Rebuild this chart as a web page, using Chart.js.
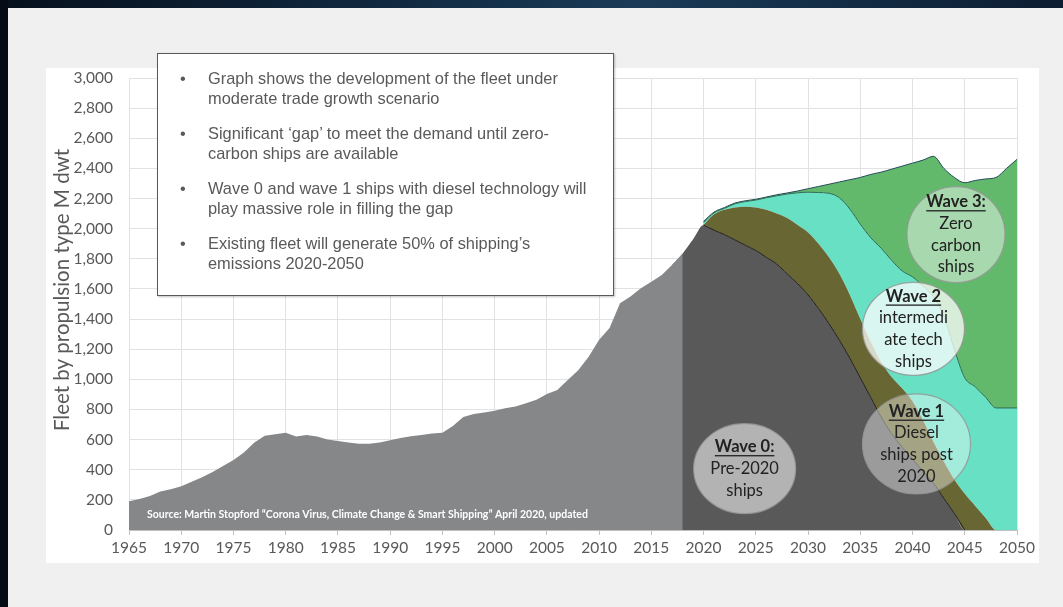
<!DOCTYPE html>
<html>
<head>
<meta charset="utf-8">
<script src="https://cdn.jsdelivr.net/npm/chart.js@4.4.1/dist/chart.umd.min.js"></script>
<style>
  html, body { margin:0; padding:0; }
  body { width:1063px; height:607px; background:#f0f0f0; position:relative; overflow:hidden; }
  #topStrip { position:absolute; left:0; top:0; width:1063px; height:8px;
    background:linear-gradient(90deg,#06101c 0%,#10283f 35%,#1a3b57 60%,#0c1d31 100%); }
  #leftStrip { position:absolute; left:0; top:0; width:8px; height:607px; background:#050c16; }
  #panel { position:absolute; left:46px; top:68px; width:993px; height:495px; background:#fff; }
  #fleetChart { position:absolute; left:0; top:0; }
  #note { position:absolute; left:157px; top:53px; width:457px; height:243px; box-sizing:border-box;
    background:#fff; border:1.5px solid #595959; box-shadow:1px 1px 2px rgba(0,0,0,.25);
    font:16.4px "Liberation Sans", Arial, sans-serif; color:#595959; }
  #note ul { list-style:none; margin:0; padding:15px 0 0 0; }
  #note li { position:relative; padding-left:50px; line-height:19.5px; margin-bottom:16px; white-space:nowrap; }
  #note li::before { content:"\2022"; position:absolute; left:22px; }
</style>
</head>
<body>
<div id="topStrip"></div>
<div id="leftStrip"></div>
<div id="panel"></div>
<canvas id="fleetChart" width="1063" height="607"></canvas>
<div id="note">
  <ul>
    <li>Graph shows the development of the fleet under<br>moderate trade growth scenario</li>
    <li>Significant ‘gap’ to meet the demand until zero-<br>carbon ships are available</li>
    <li>Wave 0 and wave 1 ships with diesel technology will<br>play massive role in filling the gap</li>
    <li>Existing fleet will generate 50% of shipping’s<br>emissions 2020-2050</li>
  </ul>
</div>
<script>
/* ---------- data (M dwt) ---------- */

// fleet history 1965-2018
const pastFleet = [
  190, 205, 225, 255, 270, 290, 320, 350, 385, 425,
  465, 515, 580, 625, 635, 645, 620, 630, 620, 600,
  590, 580, 572, 572, 580, 595, 610, 622, 630, 640,
  645, 690, 750, 770, 780, 792, 808, 820, 842, 865,
  903, 930, 995, 1060, 1150, 1262, 1340, 1505, 1550, 1605,
  1648, 1692, 1760, 1836
];

// projection years 2017-2050 (2017 sits under the history area)
const futureYears = [
  2017, 2018, 2019, 2020, 2021, 2022, 2023, 2024, 2025, 2026,
  2027, 2028, 2029, 2030, 2031, 2032, 2033, 2034, 2035, 2036,
  2037, 2038, 2039, 2040, 2041, 2042, 2043, 2044, 2045, 2046,
  2047, 2048, 2049, 2050
];

// wave 0: pre-2020 ships
const wave0 = [
  1760, 1836, 1930, 2025, 1990, 1960, 1925, 1890, 1855, 1810,
  1765, 1700, 1635, 1560, 1470, 1370, 1260, 1140, 1010, 880,
  750, 640, 550, 470, 390, 310, 210, 110, 0, 0,
  0, 0, 0, 0
];

// wave 1: diesel ships post 2020
const wave1 = [
  null, null, null, 0, 105, 165, 215, 255, 285, 315,
  335, 370, 390, 415, 430, 440, 440, 420, 390, 370,
  365, 375, 390, 385, 340, 275, 245, 225, 240, 160,
  80, 0, 0, 0
];

// wave 2: intermediate tech ships
const wave2 = [
  null, null, null, 15, 10, 10, 25, 35, 50, 80,
  118, 160, 213, 267, 340, 425, 505, 570, 630, 690,
  755, 775, 780, 825, 890, 963, 965, 865, 770, 790,
  800, 810, 810, 810
];

// wave 3: zero carbon ships
const wave3 = [
  null, null, null, 8, 5, 5, 5, 5, 5, 5,
  7, 7, 12, 23, 40, 60, 105, 195, 310, 420,
  505, 605, 695, 755, 835, 932, 980, 1140, 1295, 1370,
  1450, 1530, 1590, 1650
];

const yearTicks = { min: 1965, max: 2050, step: 5 };
const valueTicks = { min: 0, max: 3000, step: 200 };

const bubbles = [
  { year: 2023.93, value: 407,  rx: 51, ry: 45,   alpha: .54, lines: ["Wave 0:", "Pre-2020", "ships"] },
  { year: 2040.38, value: 571,  rx: 54, ry: 50,   alpha: .40, lines: ["Wave 1", "Diesel", "ships post", "2020"] },
  { year: 2040.09, value: 1335, rx: 51, ry: 46.5, alpha: .75, lines: ["Wave 2", "intermedi", "ate tech", "ships"] },
  { year: 2044.16, value: 1961, rx: 49, ry: 48,   alpha: .45, lines: ["Wave 3:", "Zero", "carbon", "ships"] }
];

const sourceNote = "Source: Martin Stopford \u201cCorona Virus, Climate Change & Smart Shipping\u201d April 2020, updated";
const yTitle = "Fleet by propulsion type M dwt";

/* ---------- helpers ---------- */

const pastPoints = pastFleet.map((v, i) => ({ x: 1965 + i, y: v }));
const toPoints = arr => futureYears.map((yr, i) => ({ x: yr, y: arr[i] }));

// outline of wave 0 from the 2020 peak until it runs out
const wave0Edge = toPoints(wave0).filter(p => p.x >= 2020 && p.x <= 2045);

const GRID = "#e2e2e2";
const AXIS = "#bfbfbf";
const TEXT = "#595959";

/* ---------- overlays: bubbles, source, axis title ---------- */

const overlayPlugin = {
  id: "overlay",
  afterDatasetsDraw(chart) {
    const { ctx, chartArea, scales: { x, y } } = chart;
    const lineH = 21.6;

    ctx.save();
    bubbles.forEach(b => {
      const cx = x.getPixelForValue(b.year);
      const cy = y.getPixelForValue(b.value);

      ctx.beginPath();
      ctx.ellipse(cx, cy, b.rx, b.ry, 0, 0, Math.PI * 2);
      ctx.fillStyle = "rgba(255,255,255," + b.alpha + ")";
      ctx.fill();
      ctx.strokeStyle = "rgba(150,150,150,0.85)";
      ctx.lineWidth = 1.2;
      ctx.stroke();

      ctx.textAlign = "center";
      ctx.textBaseline = "middle";
      ctx.fillStyle = "#222";
      const top = cy - (b.lines.length - 1) * lineH / 2;
      b.lines.forEach((t, i) => {
        ctx.font = (i === 0 ? "bold " : "") + "16.5px Lato";
        const ty = top + i * lineH;
        ctx.fillText(t, cx, ty);
        if (i === 0) {
          const w = ctx.measureText(t).width;
          ctx.fillRect(cx - w / 2, ty + 8, w, 1.3);
        }
      });
    });

    // source line inside the plot
    ctx.font = "bold 10.5px Lato";
    ctx.fillStyle = "#fff";
    ctx.textAlign = "left";
    ctx.textBaseline = "middle";
    ctx.fillText(sourceNote, chartArea.left + 18, chartArea.bottom - 15);

    // rotated y title
    ctx.translate(chartArea.left - 67, (chartArea.top + chartArea.bottom) / 2 - 14);
    ctx.rotate(-Math.PI / 2);
    ctx.font = "20.5px Lato";
    ctx.fillStyle = TEXT;
    ctx.textAlign = "center";
    ctx.textBaseline = "middle";
    ctx.fillText(yTitle, 0, 0);
    ctx.restore();
  }
};

/* ---------- chart ---------- */

const ctx = document.getElementById("fleetChart").getContext("2d");

new Chart(ctx, {
  type: "line",
  data: {
    datasets: [
      {
        label: "Fleet",
        data: pastPoints,
        stack: "past",
        backgroundColor: "#868789",
        borderColor: "transparent",
        borderWidth: 0,
        fill: "origin",
        pointRadius: 0,
        tension: 0
      },
      {
        label: "Wave 0",
        data: toPoints(wave0),
        stack: "future",
        backgroundColor: "#595959",
        borderColor: "transparent",
        borderWidth: 0,
        fill: "origin",
        pointRadius: 0,
        cubicInterpolationMode: "monotone"
      },
      {
        label: "Wave 1",
        data: toPoints(wave1),
        stack: "future",
        backgroundColor: "#686733",
        borderColor: "transparent",
        borderWidth: 0,
        fill: "-1",
        pointRadius: 0,
        cubicInterpolationMode: "monotone"
      },
      {
        label: "Wave 2",
        data: toPoints(wave2),
        stack: "future",
        backgroundColor: "#67e0c4",
        borderColor: "#2f6a52",
        borderWidth: 1,
        fill: "-1",
        pointRadius: 0,
        cubicInterpolationMode: "monotone"
      },
      {
        label: "Wave 3",
        data: toPoints(wave3),
        stack: "future",
        backgroundColor: "#62b96b",
        borderColor: "#24485a",
        borderWidth: 1,
        fill: "-1",
        pointRadius: 0,
        cubicInterpolationMode: "monotone"
      },
      {
        label: "Wave 0 edge",
        data: wave0Edge,
        stack: "edge",
        order: -1,
        borderColor: "#1e1e1e",
        borderWidth: 1,
        fill: false,
        pointRadius: 0,
        cubicInterpolationMode: "monotone"
      }
    ]
  },
  options: {
    responsive: false,
    animation: false,
    layout: { padding: { top: 78, right: 46, left: 0, bottom: 0 } },
    plugins: {
      legend: { display: false },
      tooltip: { enabled: false }
    },
    scales: {
      x: {
        type: "linear",
        min: yearTicks.min,
        max: yearTicks.max,
        afterFit: s => { s.height = 77; },
        ticks: {
          stepSize: yearTicks.step,
          color: TEXT,
          font: { family: "Lato", size: 15.5 },
          padding: 4,
          maxRotation: 0,
          callback: v => String(v)
        },
        grid: { color: GRID, tickColor: AXIS, tickLength: 5 },
        border: { color: AXIS }
      },
      y: {
        stacked: true,
        min: valueTicks.min,
        max: valueTicks.max,
        afterFit: s => { s.width = 129; },
        ticks: {
          stepSize: valueTicks.step,
          color: TEXT,
          font: { family: "Lato", size: 15.5 },
          padding: 16,
          callback: v => v.toLocaleString("en-US")
        },
        grid: { color: GRID, drawTicks: false },
        border: { display: false }
      }
    }
  },
  plugins: [overlayPlugin]
});
</script>
</body>
</html>
